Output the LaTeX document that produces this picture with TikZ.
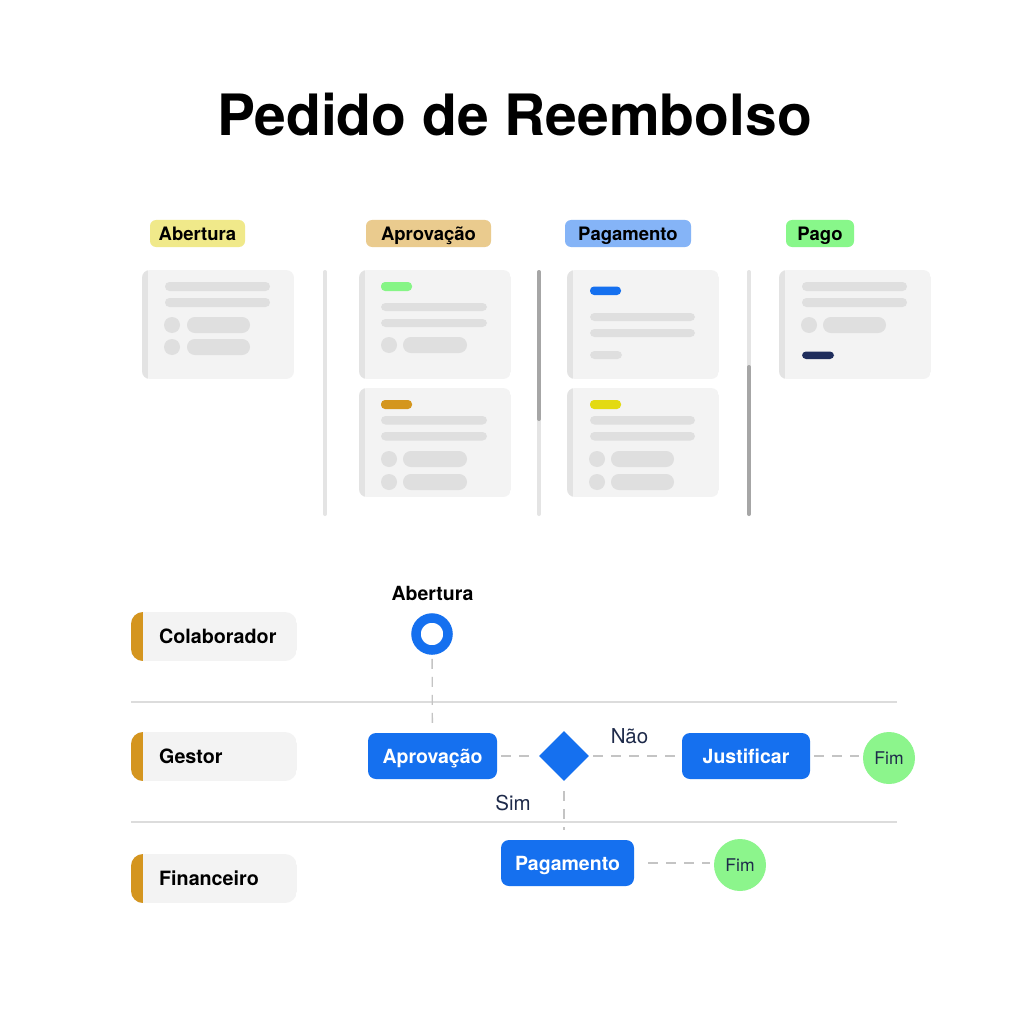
\documentclass[tikz,border=0pt]{standalone}
\usepackage{fontspec}
\setmainfont{TeX Gyre Heros}
\usetikzlibrary{shapes.geometric}
\definecolor{cardbg}{HTML}{F3F3F3}
\definecolor{stripegray}{HTML}{E3E3E3}
\definecolor{bargray}{HTML}{DFDFDF}
\definecolor{tyellow}{HTML}{F0E98A}
\definecolor{ttan}{HTML}{EACB8E}
\definecolor{tblue}{HTML}{85B4F7}
\definecolor{tgreen}{HTML}{88F78A}
\definecolor{fblue}{HTML}{1570EF}
\definecolor{fgreen}{HTML}{8CF58C}
\definecolor{lanegold}{HTML}{D4951F}
\definecolor{navy}{HTML}{1E2A4A}
\definecolor{dashgray}{HTML}{C4C4C4}
\definecolor{sepgray}{HTML}{DCDCDC}
\definecolor{scrolllight}{HTML}{E4E4E4}
\definecolor{scrolldark}{HTML}{A6A6A6}
\definecolor{mkgreen}{HTML}{86F586}
\definecolor{mkorange}{HTML}{D4961E}
\definecolor{mkyellow}{HTML}{E3DA12}
\definecolor{mknavy}{HTML}{1F2D5C}
\newcommand\fsz[1]{\fontsize{#1}{#1}\selectfont}
\tikzset{
  tagbox/.style={rounded corners=6pt, minimum height=27pt, inner sep=0pt,
    font=\bfseries\fsz{18.5}, text height=13.3pt, text depth=0pt, text=black},
  proc/.style={fill=fblue, rounded corners=8pt, minimum height=46pt, inner sep=0pt,
    text=white, font=\bfseries\fsz{19.5}, text height=14pt, text depth=0pt},
  fimc/.style={circle, fill=fgreen, minimum size=52pt, inner sep=0pt,
    font=\fsz{17.5}, text=navy, text height=12.6pt, text depth=0pt},
  flow/.style={draw=dashgray, line width=1.3pt, dash pattern=on 10pt off 8pt,
    shorten <=4pt, shorten >=4pt},
  lanelbl/.style={font=\bfseries\fsz{19.7}, anchor=west, text height=14.1pt,
    text depth=0pt, inner sep=0pt, text=black},
  ylabel/.style={font=\fsz{20.5}, text=navy, text height=14.7pt, text depth=0pt, inner sep=0pt},
  bar/.style={fill=bargray, rounded corners=4.4pt},
  pill/.style={fill=bargray, rounded corners=7.9pt},
  lanesep/.style={draw=sepgray, line width=1.2pt},
}
\newcommand\cardbase{%
  \begin{scope}
    \clip[rounded corners=8pt] (0,0) rectangle (152,109);
    \fill[cardbg] (0,0) rectangle (152,109);
    \fill[stripegray] (0,0) rectangle (6,109);
  \end{scope}}
\newcommand\laneshape[1]{%
  \begin{scope}
    \clip[rounded corners=12pt] (131,#1) rectangle (297,#1+49);
    \fill[cardbg] (131,#1) rectangle (297,#1+49);
    \fill[lanegold] (131,#1) rectangle (143,#1+49);
  \end{scope}}
\begin{document}
\begin{tikzpicture}[x=1pt,y=-1pt]
\useasboundingbox[fill=white] (0,0) rectangle (1024,1024);

% Title
\node[anchor=base, font=\bfseries\fsz{57}, inner sep=0pt] (title) at (514.5,136) {Pedido de Reembolso};

% Column tags
\node[tagbox, fill=tyellow, minimum width=95pt] (tagab) at (197.5,233.5) {Abertura};
\node[tagbox, fill=ttan, minimum width=125pt] (tagap) at (428.5,233.5) {Aprovação};
\node[tagbox, fill=tblue, minimum width=126pt] (tagpg) at (628,233.5) {Pagamento};
\node[tagbox, fill=tgreen, minimum width=68pt] (tagpo) at (820,233.5) {Pago};

% Scroll bars / separators
\draw[scrolllight, line width=4pt, line cap=round] (325,272) -- (325,514);
\draw[scrolllight, line width=4pt, line cap=round] (539,272) -- (539,514);
\draw[scrolldark, line width=4pt, line cap=round] (539,272) -- (539,419);
\draw[scrolllight, line width=4pt, line cap=round] (749,272) -- (749,514);
\draw[scrolldark, line width=4pt, line cap=round] (749,367) -- (749,514);

% Column 1 card
\begin{scope}[shift={(142,270)}]
  \cardbase
  \fill[bar] (23,12) rectangle (128,21);
  \fill[bar] (23,28) rectangle (128,37);
  \fill[bargray] (30,55) circle (8);
  \fill[pill] (45,47) rectangle (108,63);
  \fill[bargray] (30,77) circle (8);
  \fill[pill] (45,69) rectangle (108,85);
\end{scope}

% Column 2 cards
\begin{scope}[shift={(359,270)}]
  \cardbase
  \fill[mkgreen, rounded corners=4pt] (22,12) rectangle (53,21);
  \fill[bar] (22,33) rectangle (128,41);
  \fill[bar] (22,49) rectangle (128,57);
  \fill[bargray] (30,75) circle (8);
  \fill[pill] (44,67) rectangle (108,83);
\end{scope}
\begin{scope}[shift={(359,388)}]
  \cardbase
  \fill[mkorange, rounded corners=4pt] (22,12) rectangle (53,21);
  \fill[bar] (22,28) rectangle (128,36.5);
  \fill[bar] (22,44) rectangle (128,52.5);
  \fill[bargray] (30,71) circle (8);
  \fill[pill] (44,63) rectangle (108,79);
  \fill[bargray] (30,94) circle (8);
  \fill[pill] (44,86) rectangle (108,102);
\end{scope}

% Column 3 cards
\begin{scope}[shift={(567,270)}]
  \cardbase
  \fill[fblue, rounded corners=4pt] (23,16.5) rectangle (54,25);
  \fill[bar] (23,43) rectangle (128,51);
  \fill[bar] (23,59) rectangle (128,67);
  \fill[bar] (23,81) rectangle (55,89);
\end{scope}
\begin{scope}[shift={(567,388)}]
  \cardbase
  \fill[mkyellow, rounded corners=4pt] (23,12) rectangle (54,21);
  \fill[bar] (23,28) rectangle (128,36.5);
  \fill[bar] (23,44) rectangle (128,52.5);
  \fill[bargray] (30,71) circle (8);
  \fill[pill] (44,63) rectangle (107,79);
  \fill[bargray] (30,94) circle (8);
  \fill[pill] (44,86) rectangle (107,102);
\end{scope}

% Column 4 card
\begin{scope}[shift={(779,270)}]
  \cardbase
  \fill[bar] (23,12) rectangle (128,21);
  \fill[bar] (23,28) rectangle (128,37);
  \fill[bargray] (30,55) circle (8);
  \fill[pill] (44,47) rectangle (107,63);
  \fill[mknavy, rounded corners=4pt] (23,81.5) rectangle (55,89);
\end{scope}

% Swimlanes
\draw[lanesep] (131,702) -- (897,702);
\draw[lanesep] (131,822) -- (897,822);
\laneshape{612}
\laneshape{732}
\laneshape{854}
\node[lanelbl] (lcolab) at (159,636.5) {Colaborador};
\node[lanelbl] (lgestor) at (159,756.5) {Gestor};
\node[lanelbl] (lfin) at (159,878.5) {Financeiro};

% Flow nodes
\node[font=\bfseries\fsz{19.5}, text height=14pt, text depth=0pt, inner sep=0pt] (abtxt) at (432.5,593) {Abertura};
\node[circle, draw=fblue, line width=9.5pt, minimum size=32pt, inner sep=0pt] (start) at (432,634) {};
\node[proc, minimum width=129pt] (aprov) at (432.5,756) {Aprovação};
\node[diamond, fill=fblue, minimum width=50pt, minimum height=50pt, inner sep=0pt] (dec) at (564,756) {};
\node[proc, minimum width=128pt] (just) at (746,756) {Justificar};
\node[fimc] (fim1) at (889,758) {Fim};
\node[proc, minimum width=133pt] (pag) at (567.5,863) {Pagamento};
\node[fimc] (fim2) at (740,865) {Fim};
\node[ylabel] (nao) at (629.5,736.5) {Não};
\node[ylabel] (sim) at (513,803) {Sim};

% Connectors
\draw[flow] (start) -- (aprov);
\draw[flow] (aprov) -- (dec);
\draw[flow] (dec) -- (just);
\draw[flow] (just) -- (fim1.west |- just.east);
\draw[flow, shorten <=10pt, shorten >=10pt] (dec) -- (dec |- pag.north);
\draw[flow, shorten <=14pt] (pag) -- (fim2.west |- pag.east);
\end{tikzpicture}
\end{document}
